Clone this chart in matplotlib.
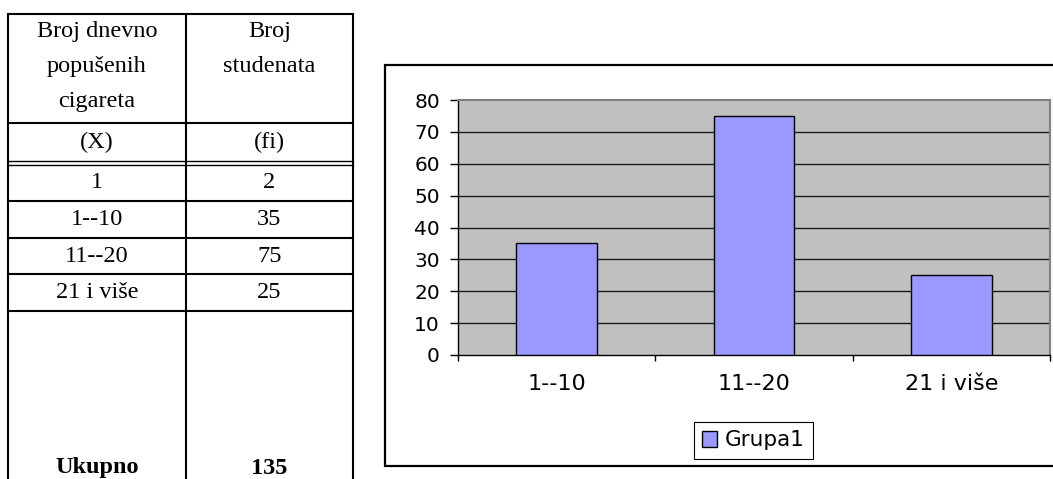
import matplotlib
matplotlib.use("Agg")
import matplotlib.pyplot as plt
from matplotlib.patches import Patch

# ---- data ----
table_header_x = ["Broj dnevno", "popušenih", "cigareta"]
table_header_f = ["Broj", "studenata"]
table_sym = ["(X)", "(fi)"]
table_classes = ["1", "1--10", "11--20", "21 i više"]
table_counts = [2, 35, 75, 25]
total_label = "Ukupno"
total_value = 135

chart_categories = ["1--10", "11--20", "21 i više"]
chart_values = [35, 75, 25]
series_name = "Grupa1"
y_ticks = [0, 10, 20, 30, 40, 50, 60, 70, 80]

W, H = 1053, 479
fig = plt.figure(figsize=(W / 100, H / 100), dpi=100)

# overlay axes in pixel coordinates for the table and chart frame
ov = fig.add_axes([0, 0, 1, 1], zorder=0)
ov.set_xlim(0, W)
ov.set_ylim(H, 0)
ov.axis("off")
ov.patch.set_alpha(0)

serif = "Liberation Serif"
fs_t = 17.5
lw_t = 1.5

xl, xm, xr = 8, 186, 353
ytop = 14
ov.plot([xl, xl], [ytop, H + 5], color="black", lw=lw_t, solid_capstyle="butt")
ov.plot([xm, xm], [ytop, H + 5], color="black", lw=lw_t, solid_capstyle="butt")
ov.plot([xr, xr], [ytop, H + 5], color="black", lw=lw_t, solid_capstyle="butt")
for y in [ytop, 123, 201, 238, 274, 311]:
    ov.plot([xl, xr], [y, y], color="black", lw=lw_t, solid_capstyle="projecting")
for y in [161, 164.5]:
    ov.plot([xl, xr], [y, y], color="black", lw=1.0)

c1, c2 = (xl + xm) / 2, (xm + xr) / 2
for i, t in enumerate(table_header_x):
    ov.text(c1, 31 + 35 * i, t, ha="center", va="center", family=serif, fontsize=fs_t)
for i, t in enumerate(table_header_f):
    ov.text(c2, 31 + 35 * i, t, ha="center", va="center", family=serif, fontsize=fs_t)
ov.text(c1, 142, table_sym[0], ha="center", va="center", family=serif, fontsize=fs_t)
ov.text(c2, 142, table_sym[1], ha="center", va="center", family=serif, fontsize=fs_t)
row_centers = [182, 219.5, 256, 292.5]
for yc, cl, cnt in zip(row_centers, table_classes, table_counts):
    ov.text(c1, yc, cl, ha="center", va="center", family=serif, fontsize=fs_t)
    ov.text(c2, yc, str(cnt), ha="center", va="center", family=serif, fontsize=fs_t)
ov.text(c1, 468, total_label, ha="center", va="center", family=serif,
        fontsize=fs_t, fontweight="bold")
ov.text(c2, 468, str(total_value), ha="center", va="center", family=serif,
        fontsize=fs_t, fontweight="bold")

# chart outer frame
fl, ft, fb = 385, 65, 466
ov.plot([W + 5, fl, fl, W + 5], [ft, ft, fb, fb], color="black", lw=1.6,
        solid_joinstyle="miter")

# ---- chart ----
pl, pr, pt, pb = 458, 1050, 100, 355
ax = fig.add_axes([pl / W, (H - pb) / H, (pr - pl) / W, (pb - pt) / H], zorder=2)
ax.set_facecolor("#C0C0C0")
x = list(range(len(chart_categories)))
bars = ax.bar(x, chart_values, width=0.41, color="#9999FF", edgecolor="black",
              linewidth=1.0, zorder=3, label=series_name)
ax.set_xlim(-0.5, len(chart_categories) - 0.5)
ax.set_ylim(0, 80)
ax.set_yticks(y_ticks)
ax.set_yticklabels([str(v) for v in y_ticks], family="DejaVu Sans", fontsize=14.5)
for v in y_ticks[1:-1]:
    ax.axhline(v, color="#1a1a1a", lw=1.0, zorder=1)
ax.tick_params(axis="y", direction="out", length=6, width=1, pad=7, color="black")
ax.set_xticks([i - 0.5 for i in range(len(chart_categories) + 1)])
ax.set_xticklabels([])
ax.set_xticks(x, minor=True)
ax.set_xticklabels(chart_categories, minor=True, family="DejaVu Sans", fontsize=16)
ax.tick_params(axis="x", which="major", direction="out", length=4.5, width=1, color="black")
ax.tick_params(axis="x", which="minor", length=0, pad=14)
ax.spines["left"].set_color("black")
ax.spines["bottom"].set_color("black")
ax.spines["left"].set_linewidth(1.0)
ax.spines["bottom"].set_linewidth(1.0)
ax.spines["top"].set_color("#808080")
ax.spines["right"].set_color("#808080")
ax.spines["top"].set_linewidth(1.5)
ax.spines["right"].set_linewidth(1.5)

leg = fig.legend(handles=[Patch(facecolor="#9999FF", edgecolor="black", lw=1.0, label=series_name)],
                 loc="center", bbox_to_anchor=(753.5 / W, (H - 440.5) / H),
                 fancybox=False, edgecolor="black", framealpha=1,
                 prop={"family": "DejaVu Sans", "size": 15.5},
                 handlelength=0.7, handleheight=0.7, handletextpad=0.35,
                 borderpad=0.4, borderaxespad=0)
leg.get_frame().set_linewidth(0.8)

fig.savefig("out.png", dpi=100)
